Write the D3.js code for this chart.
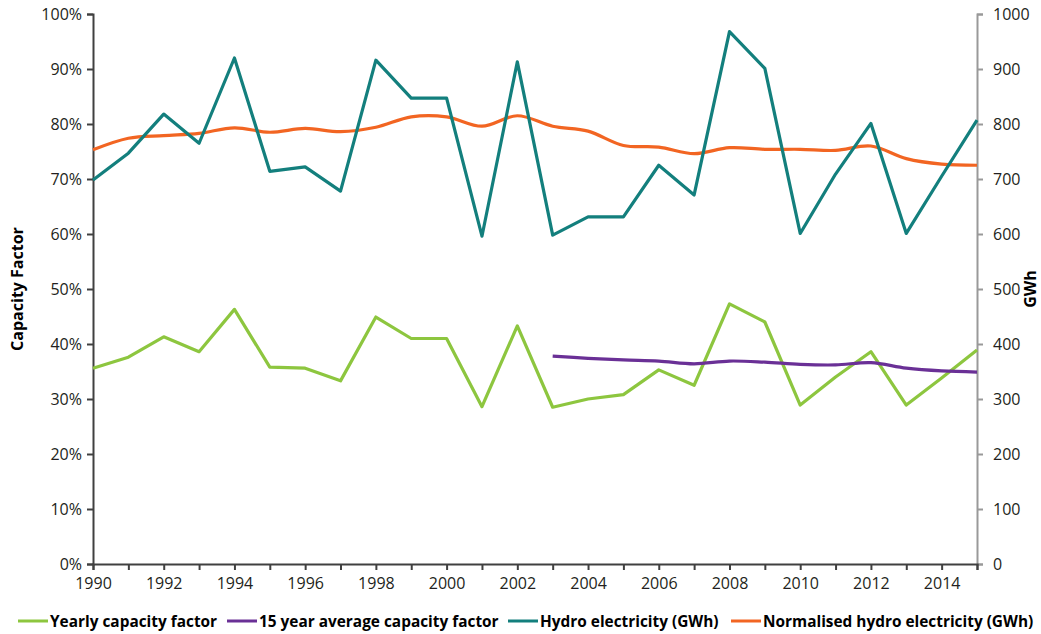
<!DOCTYPE html>
<html><head><meta charset="utf-8">
<script src="https://cdn.jsdelivr.net/npm/d3@7"></script>
<style>
body{margin:0;background:#fff;}
text{font-family:"Open Sans",sans-serif;}
</style></head>
<body><svg id="c" width="1041" height="634"></svg>
<script>
const years = d3.range(1990, 2016);
const yearlyCF = [35.6,37.6,41.3,38.6,46.3,35.8,35.6,33.3,44.9,41.0,41.0,28.6,43.3,28.5,30.0,30.8,35.3,32.5,47.3,44.0,28.9,34.0,38.6,28.9,33.8,38.9];
const avgYears = d3.range(2003, 2016);
const avgCF = [37.8,37.4,37.1,36.9,36.4,36.9,36.7,36.3,36.2,36.6,35.6,35.1,34.9];
const hydro = [698,747,818,765,920,714,722,678,916,847,847,596,913,598,631,631,725,671,968,901,601,709,801,601,705,807];
const normHydro = [753,774,779,783,793,785,792,786,794,813,813,796,815,796,787,761,758,746,757,754,754,752,760,737,727,725];
const leftTicks = d3.range(0, 101, 10);
const rightTicks = d3.range(0, 1001, 100);
const xLabelYears = d3.range(1990, 2016, 2);
const legendNames = ["Yearly capacity factor","15 year average capacity factor","Hydro electricity (GWh)","Normalised hydro electricity (GWh)"];
const colors = ["#8dc63f","#6a3096","#137f7d","#f26522"];

const svg = d3.select("#c");
const L = 93, R = 977, T = 14, B = 564;
const x = d3.scaleLinear().domain([1990, 2015]).range([L, R]);
const yL = d3.scaleLinear().domain([0, 100]).range([B, T]);
const yR = d3.scaleLinear().domain([0, 1000]).range([B, T]);

// left axis
const la = svg.append("g").attr("transform",`translate(${L},0)`)
  .call(d3.axisLeft(yL).tickValues(leftTicks).tickFormat(d=>d+"%").tickSizeOuter(0).tickSize(6).tickPadding(5));
la.selectAll("path,line").attr("stroke","#404040").attr("stroke-width",2);
la.selectAll("text").attr("font-size",16).attr("fill","#231f20");

// right axis
const ra = svg.append("g").attr("transform",`translate(${R},0)`)
  .call(d3.axisRight(yR).tickValues(rightTicks).tickFormat(d3.format("d")).tickSizeOuter(0).tickSize(6).tickPadding(10));
ra.selectAll("path,line").attr("stroke","#999").attr("stroke-width",2);
ra.selectAll("text").attr("font-size",16).attr("fill","#231f20");

// bottom axis
const ba = svg.append("g").attr("transform",`translate(0,${B})`)
  .call(d3.axisBottom(x).tickValues(years).tickFormat(d=> xLabelYears.includes(d)? String(d):"").tickSizeOuter(0).tickSize(6).tickPadding(8));
ba.selectAll("path,line").attr("stroke","#404040").attr("stroke-width",2);
ba.selectAll("text").attr("font-size",16).attr("fill","#231f20");

// axis titles
svg.append("text").attr("transform",`translate(23,${(T+B)/2}) rotate(-90)`)
  .attr("text-anchor","middle").attr("font-size",16).attr("font-weight","bold").attr("fill","#000").text("Capacity Factor");
svg.append("text").attr("transform",`translate(1036,${(T+B)/2}) rotate(-90)`)
  .attr("text-anchor","middle").attr("font-size",16).attr("font-weight","bold").attr("fill","#000").text("GWh");

const lineLin = d3.line().curve(d3.curveLinear);
const lineSm = d3.line().curve(d3.curveCatmullRom.alpha(0.5));

function draw(xs, vs, yScale, color, smooth){
  const pts = xs.map((yr,i)=>[x(yr), yScale(vs[i])]);
  svg.append("path").attr("d",(smooth?lineSm:lineLin)(pts)).attr("fill","none")
    .attr("stroke",color).attr("stroke-width",3.2).attr("stroke-linejoin","round");
}
draw(years, normHydro, yR, colors[3], true);
draw(years, hydro, yR, colors[2], false);
draw(years, yearlyCF, yL, colors[0], false);
draw(avgYears, avgCF, yL, colors[1], true);

// legend
const legX = [18, 227, 508, 731];
const lg = svg.append("g");
legendNames.forEach((n,i)=>{
  lg.append("line").attr("x1",legX[i]).attr("x2",legX[i]+30).attr("y1",621).attr("y2",621)
    .attr("stroke",colors[i]).attr("stroke-width",3);
  lg.append("text").attr("x",legX[i]+32).attr("y",627).attr("font-size",15.4).attr("font-weight","bold")
    .attr("fill","#000").text(n);
});
</script></body></html>
